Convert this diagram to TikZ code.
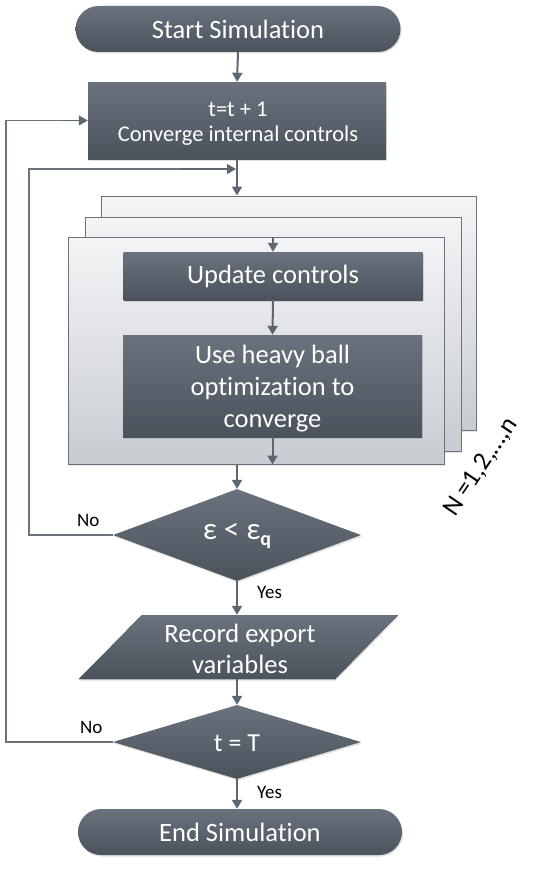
\documentclass[tikz,border=0pt]{standalone}
\usepackage{fontspec}
\setmainfont{Carlito}[RawFeature={-liga;-dlig}]
\usetikzlibrary{arrows.meta,shapes.geometric,shadows}
\definecolor{dtop}{HTML}{6A737D}
\definecolor{dbot}{HTML}{4A535C}
\definecolor{ltop}{HTML}{F3F4F6}
\definecolor{lbot}{HTML}{C8CCD2}
\definecolor{edge}{HTML}{6B727A}
\definecolor{arr}{HTML}{5E6670}
\tikzset{
  dark/.style={top color=dtop, bottom color=dbot, draw=none, text=white, inner sep=0pt, align=center,
    drop shadow={shadow xshift=1pt, shadow yshift=-1.5pt, opacity=0.25}},
  terminal/.style={dark, rounded corners=23pt, minimum width=325pt, minimum height=46pt, font=\fontsize{26.5}{30}\selectfont},
  procbox/.style={dark, minimum width=298pt, minimum height=77pt},
  innerbox/.style={dark, minimum width=299pt, font=\fontsize{26.5}{32}\selectfont},
  decision/.style={dark, diamond, aspect=2.7},
  frame/.style={top color=ltop, bottom color=lbot, draw=edge, line width=1pt, inner sep=0pt,
    drop shadow={shadow xshift=1pt, shadow yshift=-1.5pt, opacity=0.2}},
  flow/.style={draw=arr, line width=2pt, -{Triangle[length=9pt,width=10pt]}},
  loop/.style={draw=edge, line width=1.3pt},
  lbl/.style={font=\fontsize{19}{22}\selectfont, text=black, inner sep=0pt},
  wtext/.style={text=white, align=center, inner sep=0pt},
}
\begin{document}
\begin{tikzpicture}[x=1pt,y=-1pt]
\useasboundingbox (0,0) rectangle (538,875);
% nodes
\node[terminal] (start) at (238,29) {Start Simulation};
\node[procbox] (box1) at (237,120.5) {};
\node[wtext, font=\fontsize{22.5}{25}\selectfont] (box1t) at (238,124) {t=t + 1\\Converge internal controls};
\node[frame, minimum width=375pt, minimum height=234pt] (r3) at (288.5,313) {};
\node[frame, minimum width=376pt, minimum height=234pt] (r2) at (273,334) {};
\node[frame, minimum width=376pt, minimum height=227pt] (r1) at (256,350.5) {};
\node[innerbox, minimum height=48pt] (upd) at (273,276) {Update controls};
\node[innerbox, minimum height=102pt] (heavy) at (272.5,386) {};
\node[wtext, font=\fontsize{26.5}{32}\selectfont] (heavyt) at (272.5,389) {Use heavy ball\\optimization to\\converge};
\node[decision, minimum width=248pt, minimum height=92pt] (d1) at (237,535) {};
\node[wtext, font=\fontsize{31}{34}\selectfont] (d1t) at (237,536) {ε < ε\raisebox{-6pt}{\fontsize{20}{22}\selectfont\bfseries q}};
\node[inner sep=0pt, minimum width=200pt, minimum height=64pt] (rec) at (237,647) {};
\fill[top color=dtop, bottom color=dbot, drop shadow={shadow xshift=1pt, shadow yshift=-1.5pt, opacity=0.25}]
  (142,615) -- (398,615) -- (335,679) -- (79,679) -- cycle;
\node[wtext, font=\fontsize{26.5}{31}\selectfont] (rect) at (240,649) {Record export\\variables};
\node[decision, minimum width=248pt, minimum height=74pt] (d2) at (237,742) {};
\node[wtext, font=\fontsize{26}{30}\selectfont] (d2t) at (237,743) {t = T};
\node[terminal, minimum width=324pt] (end) at (240,832) {End Simulation};
% labels
\node[lbl, anchor=west] (no1) at (77,520) {No};
\node[lbl, anchor=west] (no2) at (80,727) {No};
\node[lbl, anchor=west] (yes1) at (257,592) {Yes};
\node[lbl, anchor=west] (yes2) at (257,792) {Yes};
\node[font=\fontsize{26}{30}\selectfont, rotate=56, inner sep=0pt] (lab) at (481,467) {N =1,2,…,n};
% connectors
\draw[flow] (start.south) -- (box1.north);
\draw[flow] (box1.south) -- (box1.south |- r3.north);
\draw[flow] (r1.north -| upd.north) -- (upd.north);
\draw[flow] (upd.south) -- (heavy.north);
\draw[flow] (heavy.south) -- (heavy.south |- r1.south);
\draw[flow] (r1.south -| d1.north) -- (d1.north);
\draw[flow] (d1.south) -- (rec.north);
\draw[flow] (rec.south) -- (d2.north);
\draw[flow] (d2.south) -- (d2.south |- end.north);
\coordinate (j1) at (6,742);
\coordinate (j2) at (29,535);
\coordinate (m2) at (237,169);
\coordinate (a1) at (62,120.5);
\coordinate (a2) at (180,169);
\draw[loop] (d2.west) -- (d2.west -| j1) -- (j1 |- box1.west) -- ++(70,0);
\draw[flow, line width=1.6pt] (a1) -- (box1.west);
\draw[loop] (d1.west) -- (d1.west -| j2) -- (j2 |- m2) -- ++(160,0);
\draw[flow, line width=1.6pt] (a2) -- ([xshift=-1pt]m2);
\end{tikzpicture}
\end{document}
